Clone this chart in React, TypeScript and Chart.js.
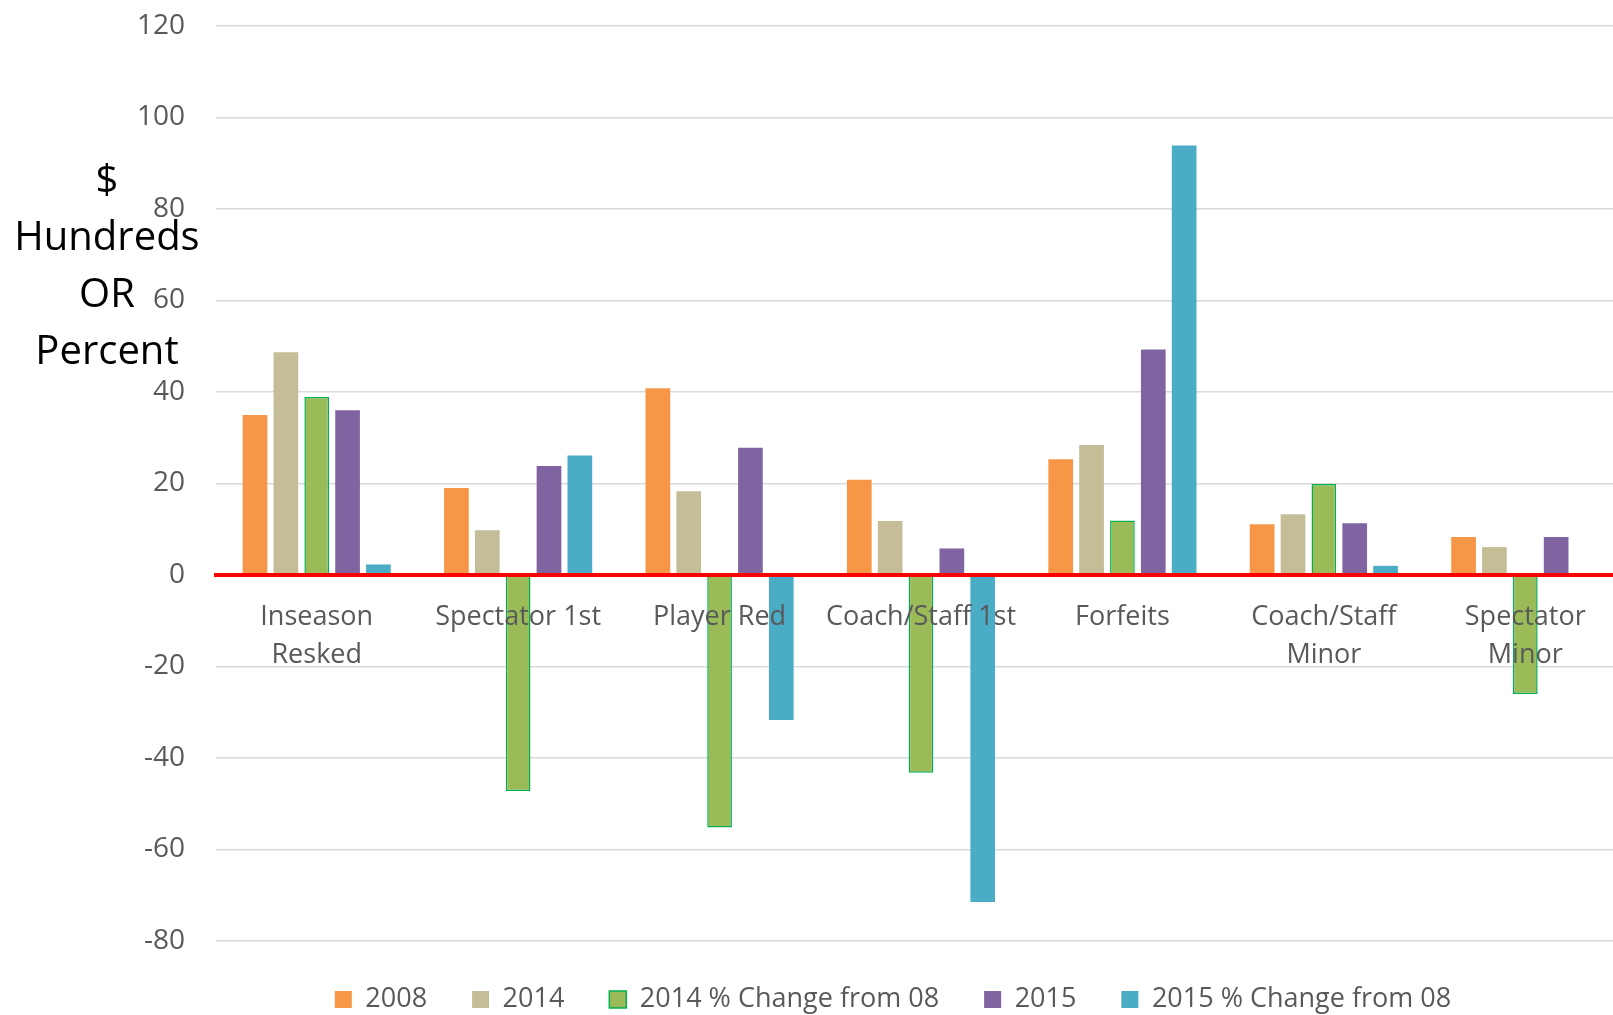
import React, { useEffect, useRef } from "react";
import { Chart, registerables } from "chart.js";

Chart.register(...registerables);

const categories: (string | string[])[] = [
  ["Inseason", "Resked"],
  "Spectator 1st",
  "Player Red",
  "Coach/Staff 1st",
  "Forfeits",
  ["Coach/Staff", "Minor"],
  ["Spectator", "Minor"],
];

const values2008 = [35, 19, 40.8, 20.8, 25.3, 11.1, 8.3];
const values2014 = [48.7, 9.8, 18.3, 11.8, 28.4, 13.3, 6.1];
const change2014 = [38.9, -47.2, -55.2, -43.2, 11.9, 19.9, -26];
const values2015 = [36, 23.8, 27.8, 5.8, 49.3, 11.3, 8.3];
const change2015: (number | null)[] = [2.3, 26.1, -31.7, -71.5, 93.9, 2.0, null];

const yTitleLines = ["$", "Hundreds", "OR", "Percent"];

const FONT = '"Open Sans", "Noto Sans", sans-serif';

const yTitlePlugin = {
  id: "yTitleHorizontal",
  afterDraw(chart: any) {
    const ctx = chart.ctx;
    ctx.save();
    ctx.font = `40px ${FONT}`;
    ctx.fillStyle = "#000000";
    ctx.textAlign = "center";
    ctx.textBaseline = "middle";
    const startY = 182;
    const step = 57;
    yTitleLines.forEach((line, i) => {
      ctx.fillText(line, 107, startY + i * step);
    });
    ctx.restore();
  },
};

export default function App() {
  const ref = useRef<HTMLCanvasElement | null>(null);

  useEffect(() => {
    if (!ref.current) return;
    const common = { categoryPercentage: 0.766, barPercentage: 0.8 };
    const chart = new Chart(ref.current, {
      type: "bar",
      data: {
        labels: categories,
        datasets: [
          { label: "2008", data: values2008, backgroundColor: "#F79646", borderWidth: 0, ...common },
          { label: "2014", data: values2014, backgroundColor: "#C4BD97", borderWidth: 0, ...common },
          {
            label: "2014 % Change from 08",
            data: change2014,
            backgroundColor: "#9BBB59",
            borderColor: "#00B050",
            borderWidth: 1.5,
            ...common,
          },
          { label: "2015", data: values2015, backgroundColor: "#8064A2", borderWidth: 0, ...common },
          { label: "2015 % Change from 08", data: change2015, backgroundColor: "#4BACC6", borderWidth: 0, ...common },
        ],
      },
      options: {
        animation: false,
        responsive: false,
        maintainAspectRatio: false,
        devicePixelRatio: 1,
        layout: { padding: { top: 26, left: 0, right: 0, bottom: 0 } },
        font: { family: FONT },
        plugins: {
          tooltip: { enabled: false },
          title: { display: false },
          legend: {
            position: "bottom",
            labels: {
              font: { family: FONT, size: 27 },
              color: "#595959",
              boxWidth: 17,
              boxHeight: 17,
              padding: 45,
            },
          },
        },
        scales: {
          x: {
            position: { y: 0 } as any,
            offset: true,
            grid: { display: true, drawOnChartArea: false, drawTicks: false },
            border: { display: true, color: "#FF0000", width: 4, z: 1 },
            ticks: {
              z: 1,
              color: "#595959",
              font: { family: FONT, size: 27, lineHeight: 1.42 },
              padding: 23,
              maxRotation: 0,
              minRotation: 0,
              autoSkip: false,
            },
          },
          y: {
            position: "left",
            min: -80,
            max: 120,
            grid: { color: "#D9D9D9", lineWidth: 1.5, drawTicks: false },
            border: { display: false },
            ticks: {
              stepSize: 20,
              color: "#595959",
              font: { family: FONT, size: 28 },
              padding: 31,
            },
            afterFit(scale: any) {
              scale.width = 216;
              scale.paddingTop = 0;
              scale.paddingBottom = 0;
            },
          },
          yR: {
            type: "linear",
            position: "right",
            display: true,
            grid: { display: false },
            border: { display: false },
            ticks: { display: false },
            afterFit(scale: any) {
              scale.width = 160;
              scale.paddingTop = 0;
              scale.paddingBottom = 0;
            },
          },
        },
      } as any,
      plugins: [yTitlePlugin],
    });
    return () => chart.destroy();
  }, []);

  return (
    <div
      style={{
        position: "fixed",
        left: 0,
        top: 0,
        width: 1613,
        height: 1015,
        overflow: "hidden",
        background: "#ffffff",
      }}
    >
      <canvas ref={ref} width={1786} height={1023} style={{ display: "block", width: 1786, height: 1023 }} />
    </div>
  );
}
